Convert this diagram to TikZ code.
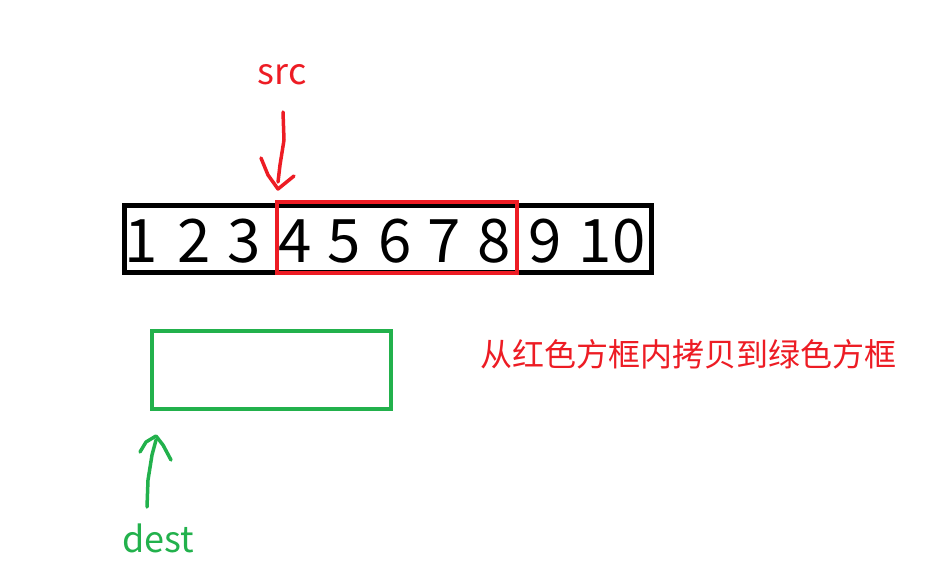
\documentclass[tikz,border=0pt]{standalone}
\usepackage{fontspec}
\setmainfont{Noto Sans CJK SC}
\newfontfamily\cjk{Noto Sans CJK SC}
\definecolor{paintred}{RGB}{237,28,36}
\definecolor{paintgreen}{RGB}{34,177,76}

\begin{document}
\begin{tikzpicture}[x=1pt, y=-1pt,
  digit/.style={anchor=base, inner sep=0pt, font=\fontsize{60}{60}\selectfont},
  label/.style={inner sep=0pt, font=\fontsize{36}{36}\selectfont},
  stroke/.style={line width=3.5pt, line cap=round, line join=round}]
  \useasboundingbox (0, 0) rectangle (945, 575);

  % the array
  \draw[line width=5pt] (124, 205) rectangle (651, 272);
  \foreach \n/\x in {1/141, 2/194, 3/244, 4/295, 5/344, 6/395, 7/444, 8/494, 9/545, 10/612}
    \node[digit] (d\n) at (\x, 262) {\n};
  \draw[paintred, line width=4pt] (277, 202) rectangle (517, 273);

  % destination
  \draw[paintgreen, line width=4pt] (152, 331) rectangle (391, 409);

  % labels
  \node[label, paintred] (src) at (282, 75) {src};
  \node[label, paintgreen] (dest) at (158, 538) {dest};
  \node[paintred, inner sep=0pt, font=\cjk\fontsize{32}{32}\selectfont] (note) at (688, 354) {从红色方框内拷贝到绿色方框};

  % hand drawn arrows
  \coordinate (srctip) at (278, 189);
  \coordinate (desttip) at (156, 436);
  \draw[paintred, stroke] (283, 112) -- (284, 140) -- (280, 165) -- (278, 182);
  \draw[paintred, stroke] (261, 158) -- (268, 175) -- (srctip) -- (294, 176);
  \draw[paintgreen, stroke] (147, 507) -- (148, 480) -- (152, 455) -- (156, 440);
  \draw[paintgreen, stroke] (140, 452) -- (146, 442) -- (desttip) -- (163, 445) -- (171, 460);
\end{tikzpicture}
\end{document}
